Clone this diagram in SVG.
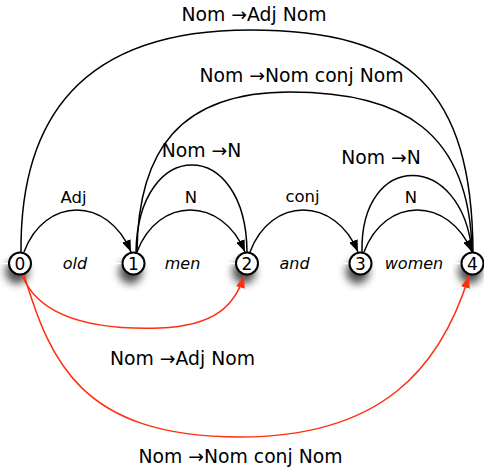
<svg xmlns="http://www.w3.org/2000/svg" width="484" height="468" viewBox="0 0 484 468">
  <style>
    .edge { fill: none; stroke: #000; stroke-width: 1.5; }
    .red { fill: none; stroke: #ff2f0f; stroke-width: 1.5; }
    .lbl { font-family: "DejaVu Sans", sans-serif; font-size: 16.5px; fill: #000; text-anchor: middle; }
    .rule { font-family: "DejaVu Sans", sans-serif; font-size: 18.8px; fill: #000; text-anchor: middle; }
    .word { font-family: "DejaVu Sans", sans-serif; font-style: italic; font-size: 16px; fill: #000; text-anchor: middle; }
    .node circle { fill: #fff; stroke: #000; stroke-width: 2; }
    .node text { font-family: "DejaVu Sans", sans-serif; font-size: 17px; fill: #000; text-anchor: middle; }
    .shadow { fill: #000; opacity: 0.7; filter: url(#blur); }
  </style>
  <defs>
    <filter id="blur" x="-100%" y="-100%" width="300%" height="300%">
      <feGaussianBlur stdDeviation="4.5"/>
    </filter>
    <marker id="ah" markerWidth="13" markerHeight="9" refX="12" refY="4.5" orient="auto" markerUnits="userSpaceOnUse">
      <path d="M0,0 L12,4.5 L0,9 z" fill="#000"/>
    </marker>
    <marker id="ahr" markerWidth="13" markerHeight="9" refX="12" refY="4.5" orient="auto" markerUnits="userSpaceOnUse">
      <path d="M0,0 L12,4.5 L0,9 z" fill="#ff2f0f"/>
    </marker>
  </defs>
  <rect width="484" height="468" fill="#fff"/>

  <g id="shadows">
    <circle class="shadow" cx="17" cy="272" r="11.5"/>
    <circle class="shadow" cx="130.5" cy="272" r="11.5"/>
    <circle class="shadow" cx="244" cy="272" r="11.5"/>
    <circle class="shadow" cx="357.5" cy="272" r="11.5"/>
    <circle class="shadow" cx="470" cy="272" r="11.5"/>
  </g>
  <line x1="0" y1="263.5" x2="484" y2="263.5" stroke="#fff" stroke-width="1.5"/>

  <g id="words">
    <rect x="46" y="252" width="58" height="23" fill="#fff"/>
    <text class="word" x="75" y="269">old</text>
    <rect x="158" y="252" width="50" height="23" fill="#fff"/>
    <text class="word" x="182.5" y="269">men</text>
    <rect x="270" y="252" width="50" height="23" fill="#fff"/>
    <text class="word" x="294.5" y="269">and</text>
    <rect x="377" y="252" width="75" height="23" fill="#fff"/>
    <text class="word" x="414" y="269">women</text>
  </g>

  <g id="connectors">
    <path class="edge" d="M21,252 C20,120 80,30 250,30 C410,30 472,90 473,252"/>
    <path class="edge" d="M137,252 C138,150 180,92 290,92 C400,92 470,130 472,252"/>
    <path class="edge" d="M136,252 C138,136 246,136 247,252"/>
    <path class="edge" d="M362,252 C360,150 462,150 472,252"/>
    <path class="edge" d="M24,252 C45,196 108,196 131,252" marker-end="url(#ah)"/>
    <path class="edge" d="M137,252 C158,196 222,196 245,252" marker-end="url(#ah)"/>
    <path class="edge" d="M250,252 C271,196 335,196 358,252" marker-end="url(#ah)"/>
    <path class="edge" d="M364,252 C385,196 449,196 472,252" marker-end="url(#ah)"/>
    <path class="red" d="M22,275 C40,320 100,330 160,328 C215,326 235,305 244,276" marker-end="url(#ahr)"/>
    <path class="red" d="M24,275 C50,360 80,437 240,437 C380,437 440,370 469,276" marker-end="url(#ahr)"/>
  </g>

  <g id="edge-labels">
    <text class="rule" x="254" y="21">Nom →Adj Nom</text>
    <text class="rule" x="301.5" y="82">Nom →Nom conj Nom</text>
    <text class="rule" x="201.5" y="157">Nom →N</text>
    <text class="rule" x="381" y="164">Nom →N</text>
    <text class="lbl" x="73.5" y="203">Adj</text>
    <text class="lbl" x="191" y="203">N</text>
    <text class="lbl" x="302.5" y="202">conj</text>
    <text class="lbl" x="411" y="203">N</text>
    <text class="rule" x="182.5" y="365">Nom →Adj Nom</text>
    <text class="rule" x="240.5" y="463">Nom →Nom conj Nom</text>
  </g>

  <g id="node0" class="node"><circle cx="20" cy="263.5" r="11"/><text x="20" y="269.5">0</text></g>
  <g id="node1" class="node"><circle cx="133.5" cy="263.5" r="11"/><text x="133.5" y="269.5">1</text></g>
  <g id="node2" class="node"><circle cx="247" cy="263.5" r="11"/><text x="247" y="269.5">2</text></g>
  <g id="node3" class="node"><circle cx="360.5" cy="263.5" r="11"/><text x="360.5" y="269.5">3</text></g>
  <g id="node4" class="node"><circle cx="472.5" cy="263.5" r="11"/><text x="472.5" y="269.5">4</text></g>
</svg>
